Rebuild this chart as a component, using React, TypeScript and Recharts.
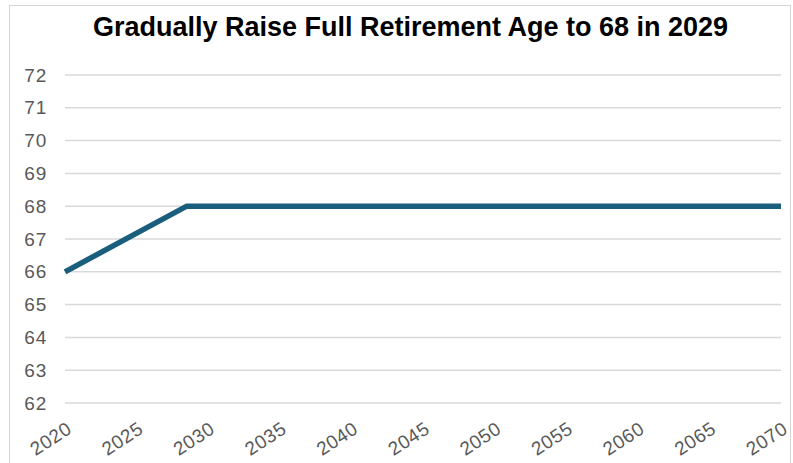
import React from "react";
import { LineChart, Line, XAxis, YAxis, CartesianGrid } from "recharts";

const years = [2020, 2028.5, 2070];
const ages = [66, 68, 68];
const xTicks = [2020, 2025, 2030, 2035, 2040, 2045, 2050, 2055, 2060, 2065, 2070];
const yTicks = [62, 63, 64, 65, 66, 67, 68, 69, 70, 71, 72];
const title = "Gradually Raise Full Retirement Age to 68 in 2029";

const data = years.map((y, i) => ({ year: y, age: ages[i] }));

const XTick = (props: any) => {
  const { x, y, payload } = props;
  return (
    <g transform={`translate(${x + 8},${y + 21}) rotate(-33)`}>
      <text textAnchor="end" fill="#595959" fontSize={19} letterSpacing={0.6} fontFamily="Liberation Sans, Arial, sans-serif">
        {payload.value}
      </text>
    </g>
  );
};

const YTick = (props: any) => {
  const { x, y, payload } = props;
  return (
    <text x={x} y={y} dy={6.5} textAnchor="end" fill="#595959" fontSize={19} letterSpacing={0.8} fontFamily="Liberation Sans, Arial, sans-serif">
      {payload.value}
    </text>
  );
};

export default function App() {
  return (
    <div style={{ position: "absolute", left: 0, top: 0, width: 793, height: 463, background: "#fff", overflow: "hidden" }}>
      <div
        style={{
          position: "absolute",
          left: 9,
          top: 5,
          width: 780,
          height: 470,
          border: "1.5px solid #d4d4d4",
        }}
      />
      <div
        style={{
          position: "absolute",
          left: 0,
          width: 793,
          top: 12,
          textAlign: "center",
          fontFamily: "'Liberation Sans Narrow', 'Liberation Sans', Arial, sans-serif",
          fontWeight: "bold",
          fontSize: 27,
          color: "#000",
          paddingLeft: 28,
          boxSizing: "border-box",
        }}
      >
        {title}
      </div>
      <div style={{ position: "absolute", left: 0, top: 0 }}>
        <LineChart width={793} height={463} data={data} margin={{ top: 75, right: 12, bottom: 5, left: 8 }}>
          <CartesianGrid vertical={false} stroke="#d9d9d9" strokeWidth={1.5} />
          <XAxis
            dataKey="year"
            type="number"
            domain={[2020, 2070]}
            ticks={xTicks}
            interval={0}
            axisLine={false}
            tickLine={false}
            height={55}
            tick={<XTick />}
          />
          <YAxis
            type="number"
            domain={[62, 72]}
            ticks={yTicks}
            interval={0}
            axisLine={false}
            tickLine={false}
            width={57}
            tickMargin={12}
            tick={<YTick />}
          />
          <Line
            type="linear"
            dataKey="age"
            stroke="#1a5e7e"
            strokeWidth={5.5}
            dot={false}
            isAnimationActive={false}
          />
        </LineChart>
      </div>
    </div>
  );
}
